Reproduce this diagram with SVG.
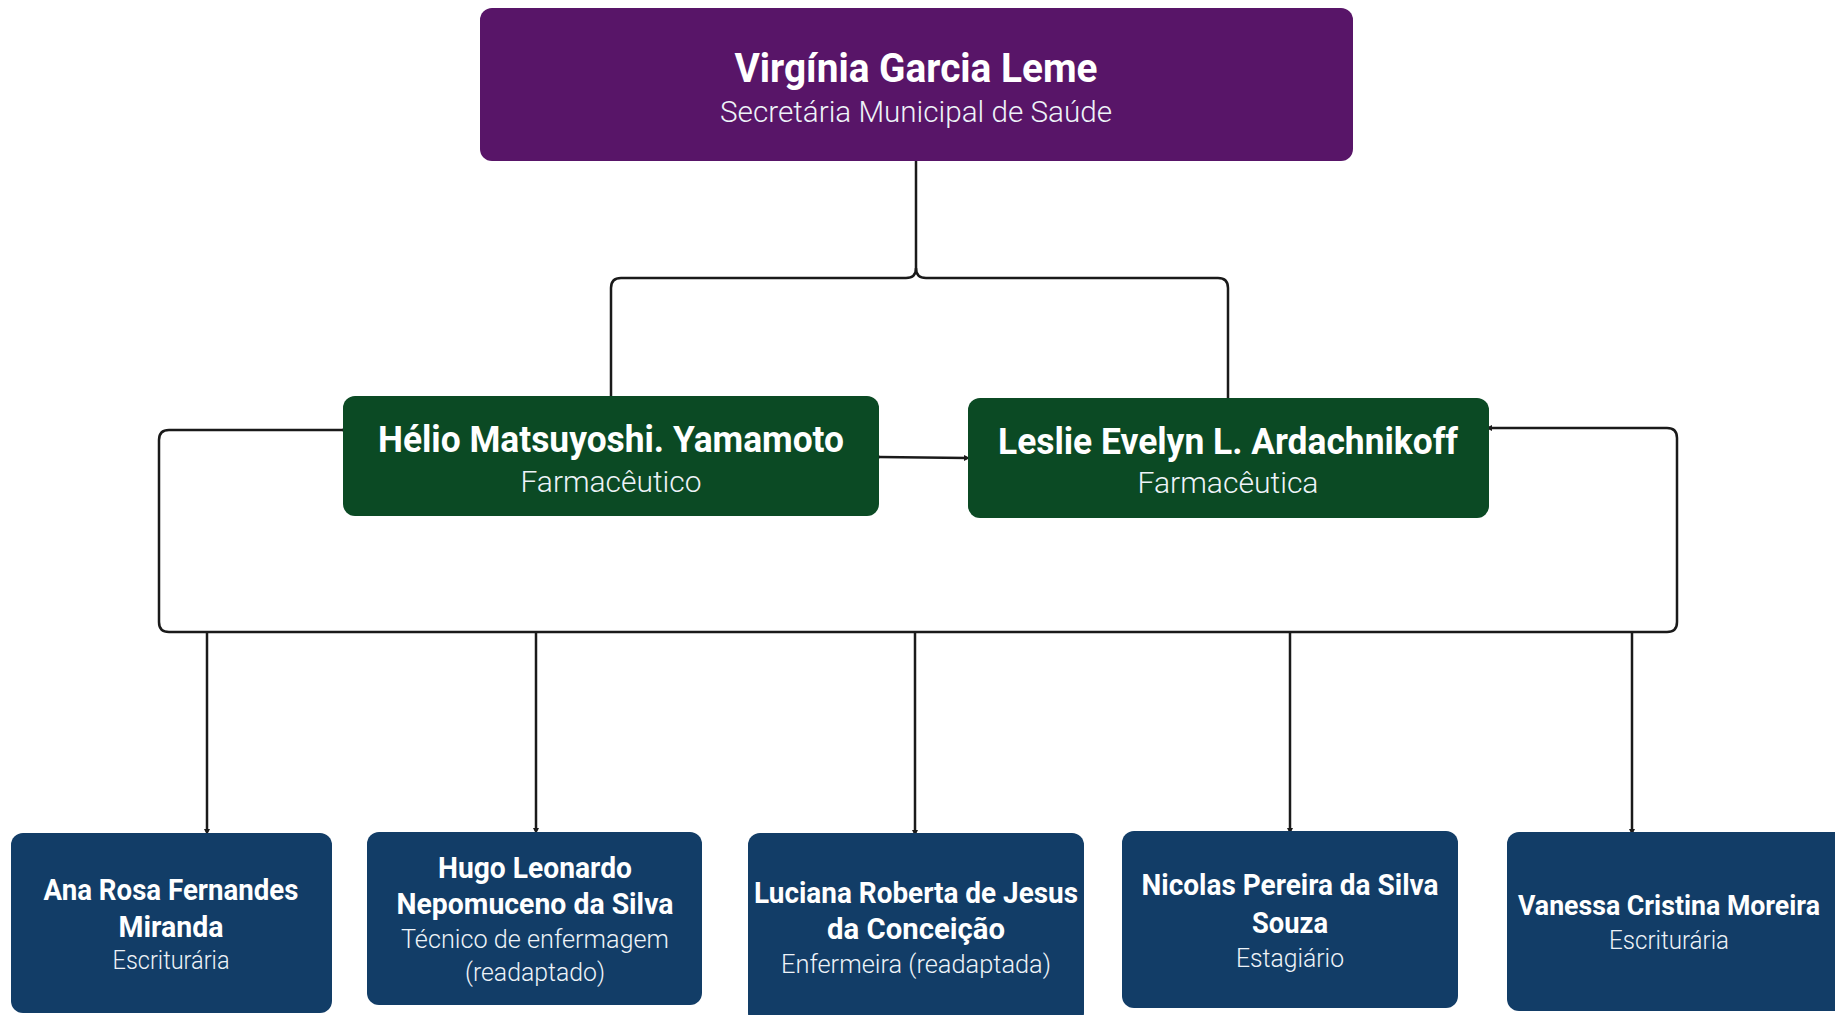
<svg xmlns="http://www.w3.org/2000/svg" width="1835" height="1015" viewBox="0 0 1835 1015">
<defs>
<marker id="tick" viewBox="0 0 6 6" refX="3" refY="3" markerWidth="6" markerHeight="6" markerUnits="userSpaceOnUse" orient="auto">
<path d="M0,0 L6,3 L0,6 z" fill="#1a1a1a"/>
</marker>
<style>
.purple{fill:#581568}
.green{fill:#0b4a24}
.navy{fill:#123d67}
.name{font-family:Roboto,"Liberation Sans",sans-serif;font-weight:700;fill:#ffffff;text-anchor:middle}
.role{font-family:Roboto,"Liberation Sans",sans-serif;font-weight:300;fill:#eef3f8;text-anchor:middle}
.conn{fill:none;stroke:#1a1a1a;stroke-width:2.5}
</style>
</defs>
<rect width="1835" height="1015" fill="#ffffff"/>
<g id="connectors">
<path class="conn" d="M916,161 V268 Q916,278 906,278 H621 Q611,278 611,288 V396"/>
<path class="conn" d="M916,268 Q916,278 926,278 H1218 Q1228,278 1228,288 V398"/>
<path class="conn" d="M879,457 L967,458" marker-start="url(#tick)" marker-end="url(#tick)"/>
<path class="conn" d="M343,430 H169 Q159,430 159,440 V622 Q159,632 169,632 H1667 Q1677,632 1677,622 V438 Q1677,428 1667,428 H1489" marker-start="url(#tick)" marker-end="url(#tick)"/>
<path class="conn" d="M207,633 V832" marker-end="url(#tick)"/>
<path class="conn" d="M536,633 V831" marker-end="url(#tick)"/>
<path class="conn" d="M915,633 V833" marker-end="url(#tick)"/>
<path class="conn" d="M1290,633 V831" marker-end="url(#tick)"/>
<path class="conn" d="M1632,633 V832" marker-end="url(#tick)"/>
</g>
<g id="node-virginia">
<rect class="purple" x="480" y="8" width="873" height="153" rx="12"/>
<text class="name" x="916" y="82" font-size="40" textLength="363" lengthAdjust="spacingAndGlyphs">Virgínia Garcia Leme</text>
<text class="role" x="916" y="122" font-size="30" textLength="392" lengthAdjust="spacingAndGlyphs">Secretária Municipal de Saúde</text>
</g>
<g id="node-helio">
<rect class="green" x="343" y="396" width="536" height="120" rx="12"/>
<text class="name" x="611" y="452" font-size="37" textLength="466" lengthAdjust="spacingAndGlyphs">Hélio Matsuyoshi. Yamamoto</text>
<text class="role" x="611" y="492" font-size="30" textLength="181" lengthAdjust="spacingAndGlyphs">Farmacêutico</text>
</g>
<g id="node-leslie">
<rect class="green" x="968" y="398" width="521" height="120" rx="12"/>
<text class="name" x="1228" y="454" font-size="37" textLength="460" lengthAdjust="spacingAndGlyphs">Leslie Evelyn L. Ardachnikoff</text>
<text class="role" x="1228" y="493" font-size="30" textLength="181" lengthAdjust="spacingAndGlyphs">Farmacêutica</text>
</g>
<g id="node-ana">
<rect class="navy" x="11" y="833" width="321" height="180" rx="12"/>
<text class="name" x="171" y="900" font-size="29" textLength="255" lengthAdjust="spacingAndGlyphs">Ana Rosa Fernandes</text>
<text class="name" x="171" y="937" font-size="29" textLength="105" lengthAdjust="spacingAndGlyphs">Miranda</text>
<text class="role" x="171" y="969" font-size="26" textLength="117" lengthAdjust="spacingAndGlyphs">Escriturária</text>
</g>
<g id="node-hugo">
<rect class="navy" x="367" y="832" width="335" height="173" rx="12"/>
<text class="name" x="535" y="878" font-size="29" textLength="194" lengthAdjust="spacingAndGlyphs">Hugo Leonardo</text>
<text class="name" x="535" y="914" font-size="29" textLength="277" lengthAdjust="spacingAndGlyphs">Nepomuceno da Silva</text>
<text class="role" x="535" y="948" font-size="26" textLength="268" lengthAdjust="spacingAndGlyphs">Técnico de enfermagem</text>
<text class="role" x="535" y="981" font-size="26" textLength="140" lengthAdjust="spacingAndGlyphs">(readaptado)</text>
</g>
<g id="node-luciana">
<rect class="navy" x="748" y="833" width="336" height="192" rx="12"/>
<text class="name" x="916" y="903" font-size="29" textLength="324" lengthAdjust="spacingAndGlyphs">Luciana Roberta de Jesus</text>
<text class="name" x="916" y="939" font-size="29" textLength="178" lengthAdjust="spacingAndGlyphs">da Conceição</text>
<text class="role" x="916" y="973" font-size="26" textLength="270" lengthAdjust="spacingAndGlyphs">Enfermeira (readaptada)</text>
</g>
<g id="node-nicolas">
<rect class="navy" x="1122" y="831" width="336" height="177" rx="12"/>
<text class="name" x="1290" y="895" font-size="29" textLength="297" lengthAdjust="spacingAndGlyphs">Nicolas Pereira da Silva</text>
<text class="name" x="1290" y="933" font-size="29" textLength="76" lengthAdjust="spacingAndGlyphs">Souza</text>
<text class="role" x="1290" y="967" font-size="26" textLength="108" lengthAdjust="spacingAndGlyphs">Estagiário</text>
</g>
<g id="node-vanessa">
<rect class="navy" x="1507" y="832" width="340" height="179" rx="12"/>
<text class="name" x="1669" y="915" font-size="27" textLength="302" lengthAdjust="spacingAndGlyphs">Vanessa Cristina Moreira</text>
<text class="role" x="1669" y="949" font-size="26" textLength="120" lengthAdjust="spacingAndGlyphs">Escriturária</text>
</g>
</svg>
